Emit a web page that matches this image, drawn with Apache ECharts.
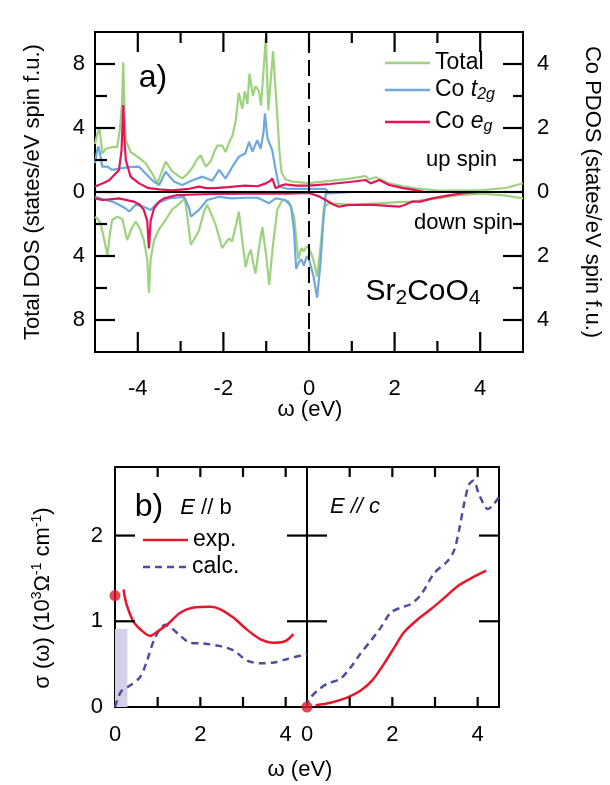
<!DOCTYPE html>
<html><head><meta charset="utf-8">
<script src="https://cdn.jsdelivr.net/npm/echarts@6/dist/echarts.min.js"></script>
<style>html,body{margin:0;padding:0;background:#fff}#c{width:610px;height:785px}</style>
</head><body><div id="c"></div>
<script>
// ---------- DATA (top panel: DOS, omega in eV) ----------
// Total DOS, left axis (states/eV spin f.u.)
const totalUp = [[-5.0,3.0],[-4.95,3.6],[-4.9,4.0],[-4.86,3.2],[-4.83,2.4],[-4.75,2.7],[-4.6,2.8],[-4.48,2.8],[-4.42,3.9],[-4.37,5.5],[-4.34,8.1],[-4.31,5.0],[-4.28,3.25],[-4.17,2.5],[-4.0,2.2],[-3.82,1.8],[-3.65,1.1],[-3.54,0.55],[-3.45,1.2],[-3.35,1.9],[-3.19,1.27],[-3.05,1.0],[-2.96,0.85],[-2.85,1.1],[-2.73,1.5],[-2.6,2.1],[-2.53,2.3],[-2.45,1.8],[-2.41,1.6],[-2.3,1.9],[-2.2,2.6],[-2.14,2.9],[-2.03,2.9],[-1.95,2.5],[-1.85,3.2],[-1.79,3.5],[-1.71,4.5],[-1.64,6.2],[-1.56,5.2],[-1.5,6.3],[-1.44,5.5],[-1.39,7.4],[-1.31,6.0],[-1.25,6.6],[-1.17,6.3],[-1.12,5.4],[-1.01,9.6],[-0.95,5.1],[-0.84,8.8],[-0.74,4.7],[-0.69,2.5],[-0.64,1.2],[-0.55,0.8],[-0.39,0.65],[-0.2,0.6],[0.0,0.55],[0.5,0.7],[1.0,0.85],[1.32,1.0],[1.4,0.8],[1.56,0.92],[1.87,0.55],[2.2,0.35],[2.49,0.23],[3.0,0.1],[3.27,0.08],[3.6,0.08],[4.05,0.12],[4.6,0.25],[5.0,0.55]];
const totalDown = [[-5.0,1.55],[-4.93,1.7],[-4.87,1.96],[-4.8,2.8],[-4.71,3.94],[-4.65,2.6],[-4.6,1.75],[-4.48,1.54],[-4.36,1.7],[-4.3,2.4],[-4.25,3.0],[-4.15,2.3],[-4.05,1.85],[-3.95,2.3],[-3.86,3.0],[-3.78,4.2],[-3.74,6.3],[-3.7,4.2],[-3.62,3.0],[-3.5,2.3],[-3.35,1.75],[-3.2,1.1],[-3.11,0.92],[-2.9,0.4],[-2.83,1.8],[-2.76,3.3],[-2.65,2.8],[-2.57,2.4],[-2.45,1.2],[-2.38,0.8],[-2.28,1.4],[-2.18,2.06],[-2.1,2.8],[-2.03,3.5],[-1.95,3.2],[-1.87,2.9],[-1.8,3.1],[-1.7,2.0],[-1.64,1.23],[-1.56,3.0],[-1.48,4.7],[-1.42,4.0],[-1.36,3.6],[-1.3,4.5],[-1.25,5.1],[-1.17,3.5],[-1.09,2.2],[-1.0,4.0],[-0.93,5.8],[-0.85,3.5],[-0.74,1.1],[-0.62,0.5],[-0.47,0.6],[-0.35,1.5],[-0.25,4.2],[-0.18,3.5],[-0.12,3.7],[-0.05,3.4],[0.0,3.5],[0.1,4.2],[0.19,5.3],[0.27,3.4],[0.35,1.0],[0.45,0.7],[1.0,0.8],[2.0,0.65],[2.4,0.6],[3.0,0.4],[3.5,0.2],[4.0,0.1],[4.5,0.2],[5.0,0.4]];
// Co t2g PDOS, right axis
const t2gUp = [[-5.0,0.9],[-4.95,1.3],[-4.92,1.42],[-4.87,1.1],[-4.83,0.79],[-4.71,0.79],[-4.6,0.69],[-4.4,0.74],[-4.2,0.78],[-3.97,0.79],[-3.82,0.58],[-3.65,0.35],[-3.5,0.22],[-3.35,0.63],[-3.15,0.32],[-2.96,0.22],[-2.75,0.35],[-2.49,0.48],[-2.26,0.35],[-2.1,0.69],[-1.95,0.42],[-1.79,0.79],[-1.64,1.1],[-1.49,1.2],[-1.4,1.57],[-1.32,1.26],[-1.21,1.62],[-1.13,1.35],[-1.06,1.9],[-1.03,2.46],[-0.97,1.68],[-0.86,1.31],[-0.78,0.7],[-0.7,0.17],[-0.5,0.1],[0.0,0.1],[0.38,0.1],[0.45,0.0],[5.0,0.0]];
const t2gDown = [[-5.0,0.15],[-4.75,0.25],[-4.6,0.3],[-4.44,0.4],[-4.3,0.5],[-4.2,0.61],[-4.05,0.4],[-3.86,0.46],[-3.7,0.56],[-3.55,0.35],[-3.27,0.2],[-2.92,0.15],[-2.8,0.5],[-2.76,0.77],[-2.57,0.56],[-2.38,0.25],[-2.1,0.15],[-1.8,0.2],[-1.5,0.18],[-1.2,0.18],[-0.93,0.35],[-0.78,0.2],[-0.55,0.25],[-0.42,0.45],[-0.35,1.2],[-0.3,2.4],[-0.24,2.2],[-0.18,2.1],[-0.12,2.3],[-0.05,2.0],[0.0,2.1],[0.1,2.6],[0.19,3.3],[0.27,2.2],[0.33,1.0],[0.39,0.05],[1.0,0.0],[5.0,0.0]];
// Co eg PDOS, right axis
const egUp = [[-5.0,0.17],[-4.8,0.28],[-4.67,0.37],[-4.5,0.6],[-4.44,0.69],[-4.38,1.3],[-4.34,2.72],[-4.31,1.6],[-4.28,1.0],[-4.17,0.48],[-3.97,0.27],[-3.75,0.12],[-3.5,0.08],[-3.2,0.05],[-2.8,0.1],[-2.57,0.17],[-2.4,0.12],[-2.2,0.12],[-1.9,0.15],[-1.49,0.2],[-1.2,0.18],[-1.01,0.27],[-0.9,0.35],[-0.86,0.43],[-0.8,0.2],[-0.78,0.12],[-0.65,0.2],[-0.55,0.24],[-0.3,0.2],[0.0,0.2],[0.5,0.25],[1.0,0.32],[1.32,0.375],[1.44,0.27],[1.64,0.375],[1.87,0.22],[2.2,0.12],[2.49,0.06],[2.7,0.0],[5.0,0.0]];
const egDown = [[-5.0,0.2],[-4.83,0.25],[-4.6,0.22],[-4.44,0.2],[-4.1,0.3],[-3.95,0.4],[-3.86,0.56],[-3.78,0.9],[-3.74,1.76],[-3.7,0.9],[-3.62,0.51],[-3.5,0.3],[-3.39,0.2],[-3.1,0.1],[-2.5,0.07],[-1.5,0.05],[-0.5,0.05],[0.0,0.03],[0.2,0.12],[0.39,0.25],[0.55,0.38],[0.7,0.46],[0.93,0.4],[1.5,0.4],[2.1,0.46],[2.25,0.4],[2.41,0.3],[2.6,0.3],[2.88,0.2],[3.3,0.1],[3.66,0.03],[4.0,0.0],[5.0,0.0]];

// ---------- DATA (bottom panels: optical conductivity) ----------
const expB  = [[0.2,1.37],[0.27,1.2],[0.43,1.0],[0.63,0.89],[0.82,0.83],[1.02,0.89],[1.22,0.96],[1.53,1.1],[1.84,1.16],[2.24,1.17],[2.47,1.14],[2.78,1.04],[3.1,0.9],[3.41,0.79],[3.73,0.75],[4.0,0.77],[4.18,0.85]];
const calcB = [[0.0,0.0],[0.08,0.12],[0.16,0.19],[0.35,0.25],[0.59,0.35],[0.75,0.54],[0.94,0.81],[1.18,0.96],[1.33,0.92],[1.53,0.83],[1.76,0.75],[2.08,0.74],[2.47,0.71],[2.78,0.66],[3.1,0.54],[3.41,0.51],[3.73,0.52],[4.04,0.56],[4.5,0.62]];
const expC  = [[0.2,0.02],[0.55,0.05],[0.94,0.11],[1.25,0.19],[1.53,0.31],[1.8,0.5],[2.04,0.69],[2.27,0.87],[2.59,1.02],[2.9,1.14],[3.21,1.27],[3.53,1.41],[3.84,1.5],[4.2,1.59]];
const calcC = [[0.0,0.0],[0.04,0.08],[0.24,0.19],[0.47,0.27],[0.78,0.33],[1.02,0.46],[1.25,0.62],[1.49,0.77],[1.72,0.92],[1.96,1.1],[2.2,1.16],[2.43,1.2],[2.67,1.31],[2.98,1.56],[3.29,1.7],[3.45,1.83],[3.57,2.08],[3.69,2.39],[3.8,2.6],[3.9,2.64],[4.04,2.47],[4.24,2.31],[4.35,2.35],[4.5,2.45]];
const dotB = [[0,1.3]];
const dotC = [[0,0]];
const shadeB = [[0,0],[0.29,0.91]];

// ---------- TICKS ----------
const topXMajor = [-4,-2,0,2,4];
const topXMinor = [-3,-1,1,3];
const leftYMajor = [-8,-4,0,4,8];
const leftYMinor = [-6,-2,2,6];
const rightYMajor = [-4,-2,0,2,4];
const rightYMinor = [-3,-1,1,3];
const botXTicks = [1,2,3,4];
const botXLabels = [0,2,4];
const botYTicks = [1,2];
const botYLabels = [0,1,2];

const FONT = "'Liberation Sans', Arial, Helvetica, sans-serif";
const GREEN = '#9dd27e', BLUE = '#6ea8dc', MAG = '#e4145a', RED = '#e5172a', NAVY = '#4e4e9e';
const neg = a => a.map(p => [p[0], -p[1]]);
const absFmt = v => String(Math.abs(v));

function ax(grid, pos, min, max, labels, margin, fmt) {
  return {
    type: 'value', gridIndex: grid, position: pos, min: min, max: max,
    axisLine: { show: false, onZero: false },
    splitLine: { show: false },
    axisTick: { show: false },
    axisLabel: labels ? { show: true, customValues: labels, margin: margin, fontSize: 22, color: '#000', fontFamily: FONT, formatter: fmt || (v => String(v)) } : { show: false }
  };
}

const xAxis = [
  ax(0, 'bottom', -5, 5, topXMajor, 26),
  ax(1, 'bottom', 0, 4.5, botXLabels, 17),
  ax(2, 'bottom', 0, 4.5, botXLabels, 17)
];
const yAxis = [
  ax(0, 'left', -10, 10, leftYMajor, 10, absFmt),
  ax(0, 'right', -5, 5, rightYMajor, 14, absFmt),
  ax(1, 'left', 0, 2.8, botYLabels, 12),
  ax(2, 'left', 0, 2.8, null, 0)
];

function line(name, data, xi, yi, color, extra) {
  return Object.assign({
    type: 'line', name: name, data: data, xAxisIndex: xi, yAxisIndex: yi,
    symbol: 'none', clip: true,
    color: color, lineStyle: { color: color, width: 2.2 }, z: 2
  }, extra || {});
}

// tick marks: drawn from the tick arrays through the axes' own scales
function ticks(xi, yi, anchors, dx, dy) {
  return {
    type: 'custom', name: 'ticks', xAxisIndex: xi, yAxisIndex: yi, data: anchors, z: 6, clip: false,
    renderItem: function (params, api) {
      const p = api.coord([api.value(0), api.value(1)]);
      return { type: 'line', shape: { x1: p[0], y1: p[1], x2: p[0] + dx, y2: p[1] + dy },
               style: { stroke: '#000', lineWidth: 2.2 } };
    }
  };
}
const atY = (vals, y) => vals.map(v => [v, y]);
const atX = (vals, x) => vals.map(v => [x, v]);

const series = [
  line('Total', totalUp, 0, 0, GREEN),
  line('Total', neg(totalDown), 0, 0, GREEN),
  line('Co t2g', t2gUp, 0, 1, BLUE),
  line('Co t2g', neg(t2gDown), 0, 1, BLUE),
  line('Co eg', egUp, 0, 1, MAG),
  line('Co eg', neg(egDown), 0, 1, MAG),
  line('zero', [[-5,0],[5,0]], 0, 0, '#000', { lineStyle: { color: '#000', width: 2 }, z: 4 }),
  line('fermi', [[0,-10],[0,10]], 0, 0, '#000', { lineStyle: { color: '#000', width: 2, type: [16, 7] }, z: 4 }),
  line('exp.', expB, 1, 2, RED, { smooth: 0.3, lineStyle: { color: RED, width: 2.5 }, z: 3,
    markArea: { itemStyle: { color: '#d4cfe7' }, data: [[{ coord: shadeB[0] }, { coord: shadeB[1] }]] } }),
  line('calc.', calcB, 1, 2, NAVY, { smooth: 0.3, lineStyle: { color: NAVY, width: 2.5, type: [7, 5] } }),
  { type: 'scatter', name: 'dotB', data: dotB, xAxisIndex: 1, yAxisIndex: 2, symbolSize: 11, clip: false, itemStyle: { color: RED }, z: 5 },
  line('exp.', expC, 2, 3, RED, { smooth: 0.3, lineStyle: { color: RED, width: 2.5 }, z: 3 }),
  line('calc.', calcC, 2, 3, NAVY, { smooth: 0.3, lineStyle: { color: NAVY, width: 2.5, type: [7, 5] } }),
  { type: 'scatter', name: 'dotC', data: dotC, xAxisIndex: 2, yAxisIndex: 3, symbolSize: 11, clip: false, itemStyle: { color: RED }, z: 5 },
  // top panel ticks
  ticks(0, 0, atY(topXMajor, -10), 0, -20),
  ticks(0, 0, atY(topXMinor, -10), 0, -11),
  ticks(0, 0, atY(topXMajor, 10), 0, 20),
  ticks(0, 0, atY(topXMinor, 10), 0, 11),
  ticks(0, 0, atX(leftYMajor, -5), 20, 0),
  ticks(0, 0, atX(leftYMinor, -5), 12, 0),
  ticks(0, 1, atX(rightYMajor, 5), -20, 0),
  ticks(0, 1, atX(rightYMinor, 5), -10, 0),
  // bottom panels ticks
  ticks(1, 2, atY(botXTicks, 0), 0, -10),
  ticks(1, 2, atY(botXTicks, 2.8), 0, 10),
  ticks(1, 2, atX(botYTicks, 0), 20, 0),
  ticks(1, 2, atX(botYTicks, 4.5), -20, 0),
  ticks(2, 3, atY(botXTicks, 0), 0, -10),
  ticks(2, 3, atY(botXTicks, 2.8), 0, 10),
  ticks(2, 3, atX(botYTicks, 0), 20, 0),
  ticks(2, 3, atX(botYTicks, 4.5), -20, 0)
];

const legRich = {
  n: { fontSize: 23, fontFamily: FONT, lineHeight: 26, color: '#000' },
  i: { fontSize: 23, fontFamily: FONT, fontStyle: 'italic', lineHeight: 26, color: '#000' },
  s: { fontSize: 16, fontFamily: FONT, fontStyle: 'italic', lineHeight: 12, verticalAlign: 'bottom', color: '#000' }
};
function leg(name, left, top, fmt, icon, size) {
  return {
    data: [name], left: left, top: top, orient: 'vertical', padding: 0,
    icon: icon, itemWidth: 45, itemHeight: 2.5, selectedMode: false, z: 10,
    formatter: fmt,
    textStyle: { fontSize: size, fontFamily: FONT, color: '#000', lineHeight: 26, rich: legRich }
  };
}
const dashIcon = 'path://M0,0h7v2.5h-7z M12,0h7v2.5h-7z M24,0h7v2.5h-7z M36,0h7v2.5h-7z';
const legend = [
  leg('Total', 385, 50, '{n|Total}', 'rect', 23),
  leg('Co t2g', 385, 77, '{n|Co }{i|t}{s|2g}', 'rect', 23),
  leg('Co eg', 385, 109, '{n|Co }{i|e}{s|g}', 'rect', 23),
  leg('exp.', 143, 527, '{n|exp.}', 'rect', 22),
  leg('calc.', 143, 554, '{n|calc.}', dashIcon, 22)
];

function T(x, y, text, size, opts) {
  opts = opts || {};
  const st = {
    text: text, fill: '#000', font: size + 'px ' + FONT,
    textAlign: opts.align || 'center', align: opts.align || 'center',
    textVerticalAlign: 'middle', verticalAlign: 'middle'
  };
  if (opts.rich) st.rich = opts.rich;
  return { type: 'text', x: x, y: y, rotation: opts.rot || 0, z: 20, style: st };
}
const r22 = {
  m: { fontSize: 22, fontFamily: FONT, lineHeight: 26, color: '#000' },
  it: { fontSize: 22, fontFamily: FONT, fontStyle: 'italic', lineHeight: 26, color: '#000' },
  sup: { fontSize: 14, fontFamily: FONT, lineHeight: 12, verticalAlign: 'top', color: '#000' }
};
const rSr = {
  m: { fontSize: 30, fontFamily: FONT, lineHeight: 34, color: '#000' },
  s: { fontSize: 21, fontFamily: FONT, lineHeight: 16, verticalAlign: 'bottom', color: '#000' }
};
const graphic = [
  T(153, 78, 'a)', 32),
  T(149, 507, 'b)', 32),
  T(206, 508, '{it|E} {m|// b}', 22, { rich: r22 }),
  T(355, 507, '{it|E // c}', 22, { rich: r22 }),
  T(423, 292, '{m|Sr}{s|2}{m|CoO}{s|4}', 30, { rich: rSr }),
  T(497, 160, 'up spin', 22, { align: 'right' }),
  T(513, 223, 'down spin', 22, { align: 'right' }),
  T(33, 192, 'Total DOS (states/eV spin f.u.)', 22, { rot: Math.PI / 2 }),
  T(592, 192, 'Co PDOS (states/eV spin f.u.)', 22, { rot: -Math.PI / 2 }),
  T(310, 410, 'ω (eV)', 22),
  T(300, 770, 'ω (eV)', 22),
  T(43, 598, '{m|σ (ω) (10}{sup|3}{m|Ω}{sup|-1}{m| cm}{sup|-1}{m|)}', 22, { rot: Math.PI / 2, rich: r22 })
];

const chart = echarts.init(document.getElementById('c'));
chart.setOption({
  animation: false,
  backgroundColor: '#fff',
  textStyle: { fontFamily: FONT, color: '#000' },
  grid: [
    { left: 95, top: 32, width: 428, height: 320, show: true, borderColor: '#000', borderWidth: 2, backgroundColor: 'transparent' },
    { left: 115, top: 467, width: 192, height: 240, show: true, borderColor: '#000', borderWidth: 2, backgroundColor: 'transparent' },
    { left: 307, top: 467, width: 192, height: 240, show: true, borderColor: '#000', borderWidth: 2, backgroundColor: 'transparent' }
  ],
  xAxis: xAxis, yAxis: yAxis, legend: legend, series: series, graphic: graphic
});
</script></body></html>
